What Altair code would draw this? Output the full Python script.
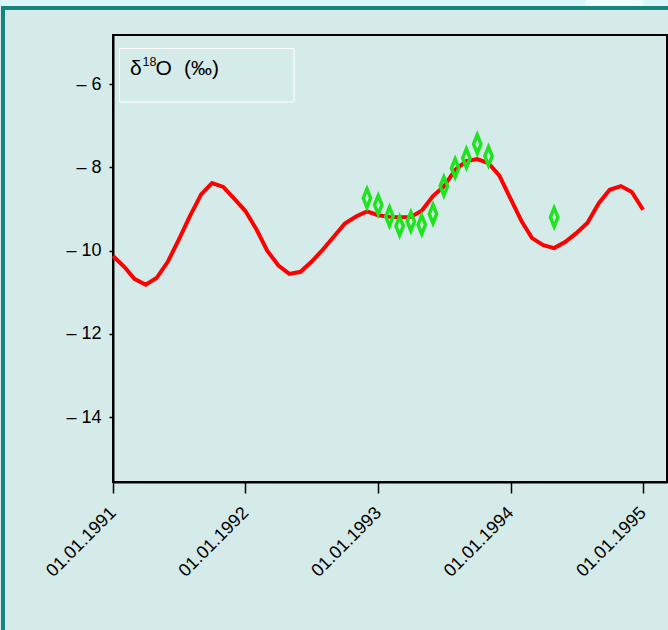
import altair as alt
import pandas as pd

# Model curve: monthly values of delta-18O (permil)
line_dates = [
    "1991-01-01", "1991-02-01", "1991-03-01", "1991-04-01", "1991-05-01", "1991-06-01",
    "1991-07-01", "1991-08-01", "1991-09-01", "1991-10-01", "1991-11-01", "1991-12-01",
    "1992-01-01", "1992-02-01", "1992-03-01", "1992-04-01", "1992-05-01", "1992-06-01",
    "1992-07-01", "1992-08-01", "1992-09-01", "1992-10-01", "1992-11-01", "1992-12-01",
    "1993-01-01", "1993-02-01", "1993-03-01", "1993-04-01", "1993-05-01", "1993-06-01",
    "1993-07-01", "1993-08-01", "1993-09-01", "1993-10-01", "1993-11-01", "1993-12-01",
    "1994-01-01", "1994-02-01", "1994-03-01", "1994-04-01", "1994-05-01", "1994-06-01",
    "1994-07-01", "1994-08-01", "1994-09-01", "1994-10-01", "1994-11-01", "1994-12-01",
    "1995-01-01",
]
line_values = [
    -10.13, -10.39, -10.68, -10.82, -10.66, -10.27, -9.74, -9.17, -8.65, -8.38, -8.47, -8.75,
    -9.05, -9.50, -10.00, -10.36, -10.56, -10.51, -10.27, -9.98, -9.66, -9.35, -9.18, -9.06,
    -9.15, -9.19, -9.20, -9.19, -9.04, -8.69, -8.46, -8.06, -7.85, -7.80, -7.90, -8.20,
    -8.76, -9.31, -9.70, -9.87, -9.94, -9.79, -9.58, -9.33, -8.86, -8.54, -8.45, -8.59,
    -9.02,
]

# Measured samples
sample_dates = [
    "1992-12-01", "1993-01-01", "1993-02-01", "1993-03-01", "1993-04-01", "1993-05-01",
    "1993-06-01", "1993-07-01", "1993-08-01", "1993-09-01", "1993-10-01", "1993-11-01",
    "1994-05-01",
]
sample_values = [
    -8.74, -8.90, -9.18, -9.41, -9.30, -9.38, -9.12, -8.45, -8.02, -7.78, -7.44, -7.73,
    -9.20,
]

x_tick_years = [1991, 1992, 1993, 1994, 1995]
y_ticks = [-6, -8, -10, -12, -14]

line_df = pd.DataFrame({"date": line_dates, "value": line_values})
sample_df = pd.DataFrame({"date": sample_dates, "value": sample_values})
one = pd.DataFrame({"k": [0]})

W, H = 554, 447
FONT = "Liberation Sans"

x_scale = alt.Scale(
    type="utc",
    domain=[alt.DateTime(year=1991, month=1, date=1, utc=True),
            alt.DateTime(year=1995, month=3, date=8, utc=True)],
    nice=False,
)
y_scale = alt.Scale(domain=[-15.56, -4.82], nice=False, zero=False)

x_axis = alt.Axis(
    title=None,
    values=[alt.DateTime(year=yr, month=1, date=1, utc=True) for yr in x_tick_years],
    format="%d.%m.%Y",
    labelAngle=-45,
    labelAlign="right",
    labelBaseline="middle",
    labelPadding=17,
    tickSize=11,
    labelFontSize=18,
    grid=False,
)
y_axis = alt.Axis(
    title=None,
    values=y_ticks,
    labelExpr="'– ' + abs(datum.value)",
    tickSize=4,
    labelPadding=8,
    labelFontSize=18,
    grid=False,
)

# Frame decoration around the panel
top_strip = alt.Chart(one).mark_rect(color="#daf6fb").encode(
    x=alt.value(-113), x2=alt.value(560), y=alt.value(-35), y2=alt.value(-29))
top_glow = alt.Chart(one).mark_rect(color="#eefdff", cornerRadius=4).encode(
    x=alt.value(472), x2=alt.value(530), y=alt.value(-35), y2=alt.value(-29))
border_top = alt.Chart(one).mark_rect(color="#17847e").encode(
    x=alt.value(-112), x2=alt.value(560), y=alt.value(-29), y2=alt.value(-25))
border_left = alt.Chart(one).mark_rect(color="#17847e").encode(
    x=alt.value(-112), x2=alt.value(-108), y=alt.value(-29), y2=alt.value(600))

# Caption box in the upper left of the panel
caption_box = alt.Chart(one).mark_rect(fillOpacity=0, stroke="white", strokeWidth=1).encode(
    x=alt.value(6.5), x2=alt.value(181), y=alt.value(13.5), y2=alt.value(67))


def caption_text(text, x, y, size):
    return alt.Chart(one).mark_text(
        text=text, font=FONT, fontSize=size, align="left", baseline="alphabetic", color="black"
    ).encode(x=alt.value(x), y=alt.value(y))


cap_delta = caption_text("δ", 17, 40, 21)
cap_sup = caption_text("18", 29.5, 31, 12.5)
cap_o = caption_text("O", 42.5, 40, 21)
cap_unit = caption_text("(‰)", 71, 40, 21)

line = alt.Chart(line_df).mark_line(color="#ff0000", strokeWidth=4).encode(
    x=alt.X("date:T", scale=x_scale, axis=x_axis),
    y=alt.Y("value:Q", scale=y_scale, axis=y_axis),
)

diamond = "M0,-1L0.4,0L0,1L-0.4,0Z"
points = alt.Chart(sample_df).mark_point(
    shape=diamond, filled=False, stroke="#1ee41e", strokeWidth=3.5, size=340, opacity=1
).encode(
    x=alt.X("date:T", scale=x_scale),
    y=alt.Y("value:Q", scale=y_scale),
)

chart = alt.layer(
    top_strip, top_glow, border_top, border_left, caption_box,
    cap_delta, cap_sup, cap_o, cap_unit, line, points
).properties(
    width=W,
    height=H,
    padding={"left": 113, "top": 35, "right": 1, "bottom": 148},
    autosize=alt.AutoSizeParams(type="none"),
    background="#d5ebea",
).configure_view(
    stroke="black", strokeWidth=2, fill=None
).configure_axis(
    domainColor="black", domainWidth=2, tickColor="black", tickWidth=1.5,
    labelColor="black", labelFont=FONT,
)

chart.save("out.html", embed_options={"renderer": "svg", "actions": False})
